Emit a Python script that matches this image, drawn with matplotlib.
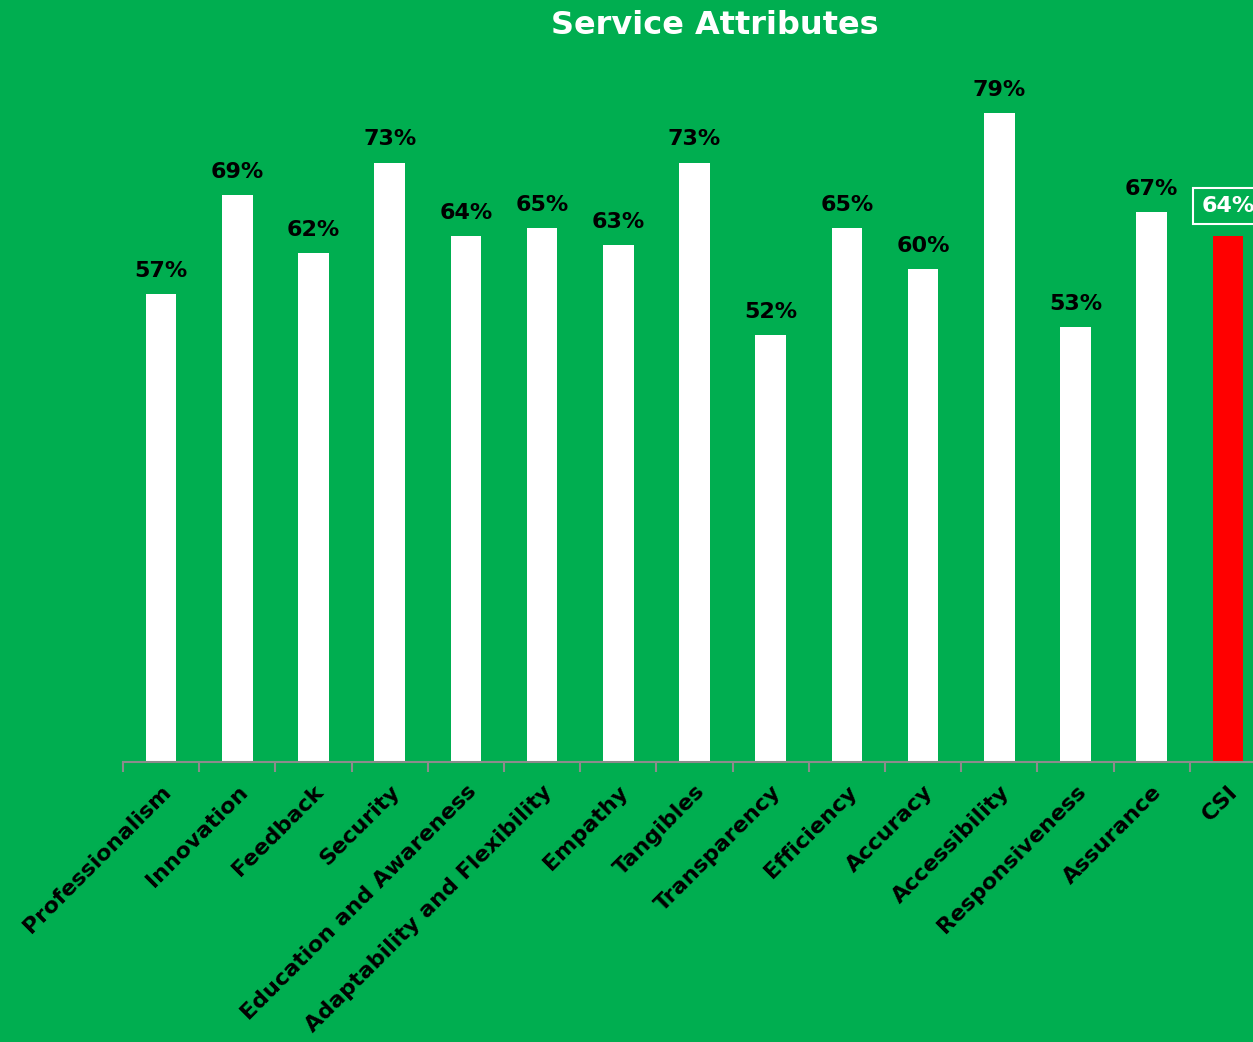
import numpy as np
import matplotlib.pyplot as plt

# data
categories = ["Professionalism", "Innovation", "Feedback", "Security",
              "Education and Awareness", "Adaptability and Flexibility",
              "Empathy", "Tangibles", "Transparency", "Efficiency", "Accuracy",
              "Accessibility", "Responsiveness", "Assurance", "CSI"]
scores = [0.57, 0.69, 0.62, 0.73, 0.64, 0.65, 0.63, 0.73, 0.52, 0.65, 0.60,
          0.79, 0.53, 0.67, 0.64]

green = "#00AE50"

fig = plt.figure(figsize=(12.53, 10.42), dpi=100, facecolor=green)
ax = fig.add_axes([123 / 1253, 280 / 1042, (1266 - 123) / 1253, 739 / 1042])
ax.set_facecolor(green)

x = np.arange(len(categories))
colors = ["white"] * (len(categories) - 1) + ["#FF0000"]
ax.bar(x, scores, width=0.4, color=colors)

# value labels
for i, v in enumerate(scores):
    if categories[i] == "CSI":
        ax.text(i, v + 0.025, f"{v:.0%}", ha="center", va="bottom",
                fontsize=16, fontweight="bold", color="white",
                bbox=dict(facecolor=green, edgecolor="white", lw=1.5, pad=6))
    else:
        ax.text(i, v + 0.016, f"{v:.0%}", ha="center", va="bottom",
                fontsize=16, fontweight="bold", color="black")

ax.set_xlim(-0.5, len(categories) - 0.5)
ax.set_ylim(0, 0.9)

# axis styling
for s in ["top", "right", "left"]:
    ax.spines[s].set_visible(False)
ax.spines["bottom"].set_color("#8c8c8c")
ax.spines["bottom"].set_linewidth(1.5)
ax.set_yticks([])

ax.set_xticks(x)
ax.set_xticklabels(categories, rotation=45, ha="right", rotation_mode="anchor",
                   fontsize=16, fontweight="bold", color="black")
ax.tick_params(axis="x", which="major", length=0, pad=14)
ax.set_xticks(np.arange(-0.5, len(categories), 1), minor=True)
ax.tick_params(axis="x", which="minor", length=7, width=1.5, color="#8c8c8c")

fig.text(715 / 1253, 1 - 25 / 1042, "Service Attributes", ha="center",
         va="center", fontsize=23, fontweight="bold", color="white")

fig.savefig("out.png", facecolor=green)
